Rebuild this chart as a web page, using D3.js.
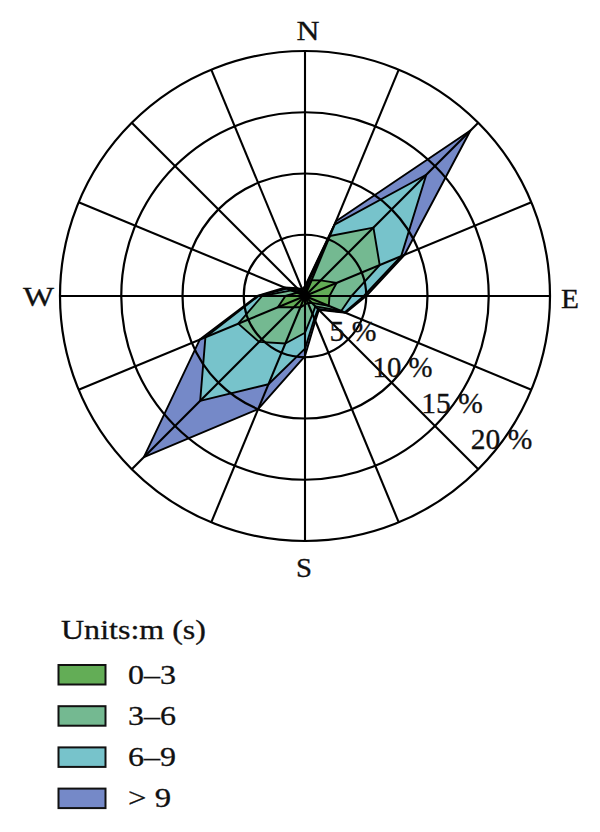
<!DOCTYPE html>
<html>
<head>
<meta charset="utf-8">
<script src="https://cdn.jsdelivr.net/npm/d3@7"></script>
<style>
html,body{margin:0;padding:0;background:#fff;}
svg{display:block;}
text{font-family:"Liberation Serif","Times New Roman",serif;fill:#111;stroke:#111;stroke-width:0.3px;}
</style>
</head>
<body>
<svg id="chart" width="600" height="832"></svg>
<script>
// ---- data ----
const directions = ["N","NNE","NE","ENE","E","ESE","SE","SSE","S","SSW","SW","WSW","W","WNW","NW","NNW"];
const bin0to3 = [0.3,1.4,1.8,2.8,2.0,2.1,0.8,0.6,0.7,1.0,1.3,2.4,1.6,0.7,0.3,0.2];
const bin3to6 = [0.2,3.9,6.1,3.8,1.8,1.1,0.4,1.0,2.3,3.2,4.0,3.5,1.9,0.5,0.2,0.1];
const bin6to9 = [0.2,1.0,6.1,1.9,1.0,0.3,0.3,0.4,1.3,3.6,6.8,2.9,0.3,0.4,0.2,0.2];
const binOver9 = [0.1,0.3,5.1,0.3,0.2,0.1,0.1,0.2,0.6,2.2,6.5,0.5,0.1,0.2,0.2,0.1];
const binLabels = ["0\u20133","3\u20136","6\u20139","> 9"];
const binColors = ["#63ad56","#74b991","#77c3cb","#7589c8"];
const ringTicks = [5,10,15,20];
const ringLabels = ["5 %","10 %","15 %","20 %"];
const compassLabels = ["N","E","S","W"];
const legendTitle = "Units:m (s)";

// ---- layout ----
const svg = d3.select("#chart");
const cx = 305, cy = 296, R = 245;
const g = svg.append("g").attr("transform", `translate(${cx},${cy})`);

const r = d3.scaleLinear().domain([0, 20]).range([0, R]);
const ang = d3.scaleLinear().domain([0, directions.length]).range([0, 2 * Math.PI]);

const keys = ["b0","b1","b2","b3"];
const table = directions.map((d, i) => ({dir: d, i, b0: bin0to3[i], b1: bin3to6[i], b2: bin6to9[i], b3: binOver9[i]}));
const series = d3.stack().keys(keys)(table);

const radial = d3.lineRadial()
  .angle(d => ang(d.data.i))
  .radius(d => r(d[1]))
  .curve(d3.curveLinearClosed);

// draw outer layers first
g.selectAll("path.layer")
  .data(series.slice().reverse())
  .join("path")
  .attr("class", "layer")
  .attr("d", s => radial(s))
  .attr("fill", s => binColors[s.index])
  .attr("stroke", "#000")
  .attr("stroke-width", 1.9)
  .attr("stroke-linejoin", "round");

// grid on top
g.selectAll("circle.ring")
  .data(ringTicks)
  .join("circle")
  .attr("class", "ring")
  .attr("r", d => r(d))
  .attr("fill", "none")
  .attr("stroke", "#000")
  .attr("stroke-width", 2.2);

g.selectAll("line.spoke")
  .data(directions.map((d, i) => i))
  .join("line")
  .attr("class", "spoke")
  .attr("x1", 0).attr("y1", 0)
  .attr("x2", i => r(20) * Math.sin(ang(i)))
  .attr("y2", i => -r(20) * Math.cos(ang(i)))
  .attr("stroke", "#000")
  .attr("stroke-width", 2.1);

g.append("circle").attr("r", 5).attr("fill", "#000");

// ring labels
const labAng = 126 * Math.PI / 180;
const ringWidths = [47, 60, 61.5, 61.5];
g.selectAll("text.rl")
  .data(ringTicks)
  .join("text")
  .attr("class", "rl")
  .attr("x", d => (r(d) - 2) * Math.sin(labAng))
  .attr("y", d => -(r(d) - 2) * Math.cos(labAng) + 10)
  .attr("text-anchor", "middle")
  .attr("font-size", 29)
  .attr("textLength", (d, i) => ringWidths[i])
  .attr("lengthAdjust", "spacingAndGlyphs")
  .text((d, i) => ringLabels[i]);

// compass labels
const comp = [
  {t: compassLabels[0], x: 3, y: -R - 11, a: "middle", w: 23},
  {t: compassLabels[1], x: R + 11, y: 12, a: "start", w: 18},
  {t: compassLabels[2], x: -1, y: R + 36, a: "middle", w: 16},
  {t: compassLabels[3], x: -R - 6, y: 10, a: "end", w: 31}
];
g.selectAll("text.cl")
  .data(comp)
  .join("text")
  .attr("class", "cl")
  .attr("x", d => d.x).attr("y", d => d.y)
  .attr("text-anchor", d => d.a)
  .attr("font-size", 27)
  .attr("textLength", d => d.w)
  .attr("lengthAdjust", "spacingAndGlyphs")
  .text(d => d.t);

// legend
const lg = svg.append("g");
lg.append("text")
  .attr("x", 61).attr("y", 639)
  .attr("font-size", 27)
  .attr("textLength", 145)
  .attr("lengthAdjust", "spacingAndGlyphs")
  .text(legendTitle);

const items = lg.selectAll("g.item")
  .data(binLabels)
  .join("g")
  .attr("class", "item")
  .attr("transform", (d, i) => `translate(0,${665 + i * 41.2})`);
items.append("rect")
  .attr("x", 58.5).attr("y", 0)
  .attr("width", 47).attr("height", 19.5)
  .attr("fill", (d, i) => binColors[i])
  .attr("stroke", "#111")
  .attr("stroke-width", 2);
items.append("text")
  .attr("x", 128).attr("y", 18.5)
  .attr("font-size", 28)
  .attr("textLength", (d, i) => i === 3 ? 43 : 48)
  .attr("lengthAdjust", "spacingAndGlyphs")
  .text(d => d);
</script>
</body>
</html>
